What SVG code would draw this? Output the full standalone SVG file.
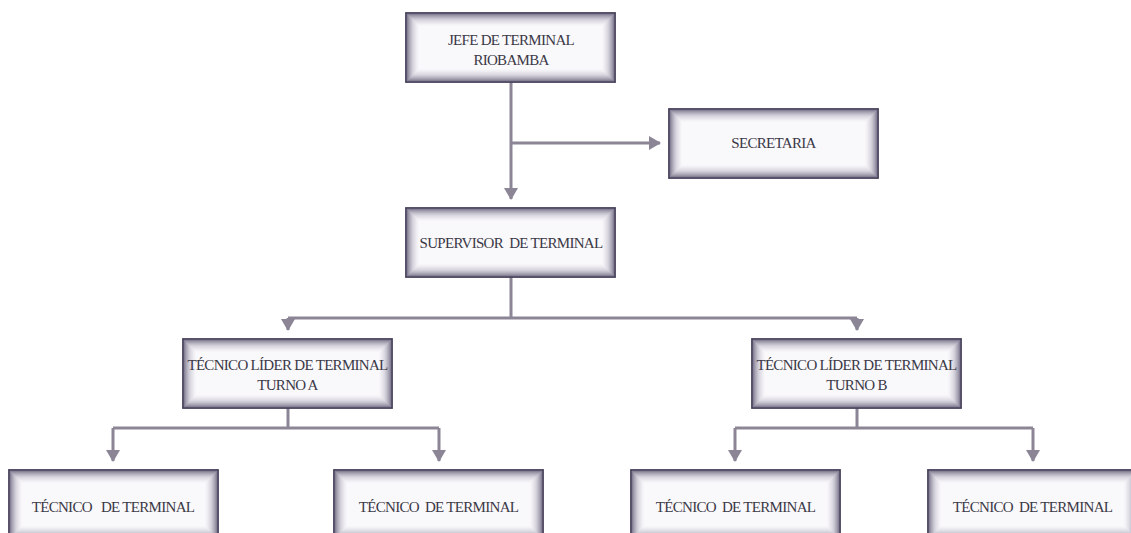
<svg xmlns="http://www.w3.org/2000/svg" width="1131" height="533" viewBox="0 0 1131 533">
  <defs>
    <style>
      .label { font-family: 'Liberation Serif', 'Times New Roman', serif; font-size: 15px; letter-spacing: -0.7px; fill: #3b3846; text-anchor: middle; dominant-baseline: central; white-space: pre; }
      .wire { fill: none; stroke: #8b8596; stroke-width: 3; }
      .shade { fill: none; stroke: #5c5472; stroke-width: 1; }
    </style>
    <!-- 209 x 69 box: pale centre, purple-grey shading fading in from the border -->
    <g id="box">
      <rect x="0" y="0" width="209" height="69" fill="#f9f8fb"/>
      <rect class="shade" x="1.5" y="1.5" width="206" height="66" stroke-opacity="0.72"/>
      <rect class="shade" x="2.5" y="2.5" width="204" height="64" stroke-opacity="0.6"/>
      <rect class="shade" x="3.5" y="3.5" width="202" height="62" stroke-opacity="0.5"/>
      <rect class="shade" x="4.5" y="4.5" width="200" height="60" stroke-opacity="0.41"/>
      <rect class="shade" x="5.5" y="5.5" width="198" height="58" stroke-opacity="0.33"/>
      <rect class="shade" x="6.5" y="6.5" width="196" height="56" stroke-opacity="0.26"/>
      <rect class="shade" x="7.5" y="7.5" width="194" height="54" stroke-opacity="0.2"/>
      <rect class="shade" x="8.5" y="8.5" width="192" height="52" stroke-opacity="0.15"/>
      <rect class="shade" x="9.5" y="9.5" width="190" height="50" stroke-opacity="0.11"/>
      <rect class="shade" x="10.5" y="10.5" width="188" height="48" stroke-opacity="0.07"/>
      <rect class="shade" x="11.5" y="11.5" width="186" height="46" stroke-opacity="0.04"/>
      <rect class="shade" x="12.5" y="12.5" width="184" height="44" stroke-opacity="0.02"/>
      <rect x="0" y="0" width="209" height="69" fill="none" stroke="#46405a" stroke-width="1.8"/>
    </g>
    <marker id="arrow" markerUnits="userSpaceOnUse" markerWidth="12" markerHeight="14" viewBox="0 0 12 14" refX="11" refY="7" orient="auto">
      <path d="M0,0 L12,7 L0,14 Z" fill="#8b8596"/>
    </marker>
  </defs>

  <!-- connectors -->
  <g id="connectors">
    <path class="wire" d="M511,82 V199" marker-end="url(#arrow)"/>
    <path class="wire" d="M511,143 H660" marker-end="url(#arrow)"/>
    <path class="wire" d="M511,276 V318"/>
    <path class="wire" d="M288,318 H857"/>
    <path class="wire" d="M288,318 V330" marker-end="url(#arrow)"/>
    <path class="wire" d="M857,318 V330" marker-end="url(#arrow)"/>
    <path class="wire" d="M288,407 V428"/>
    <path class="wire" d="M113,428 H439"/>
    <path class="wire" d="M113,428 V461" marker-end="url(#arrow)"/>
    <path class="wire" d="M439,428 V461" marker-end="url(#arrow)"/>
    <path class="wire" d="M857,408 V428"/>
    <path class="wire" d="M735,428 H1033"/>
    <path class="wire" d="M735,428 V461" marker-end="url(#arrow)"/>
    <path class="wire" d="M1033,428 V461" marker-end="url(#arrow)"/>
  </g>

  <g id="jefe">
    <use href="#box" x="406" y="13"/>
    <text class="label" x="511" y="40">JEFE DE TERMINAL</text>
    <text class="label" x="511" y="60">RIOBAMBA</text>
  </g>

  <g id="secretaria">
    <use href="#box" x="669" y="109"/>
    <text class="label" x="773.5" y="143">SECRETARIA</text>
  </g>

  <g id="supervisor">
    <use href="#box" x="406" y="208"/>
    <text class="label" x="511" y="243">SUPERVISOR  DE TERMINAL</text>
  </g>

  <g id="lider-a">
    <use href="#box" x="183" y="339"/>
    <text class="label" x="287.5" y="365">TÉCNICO LÍDER DE TERMINAL</text>
    <text class="label" x="287.5" y="385">TURNO A</text>
  </g>

  <g id="lider-b">
    <use href="#box" x="752" y="339"/>
    <text class="label" x="856.5" y="365">TÉCNICO LÍDER DE TERMINAL</text>
    <text class="label" x="856.5" y="385">TURNO B</text>
  </g>

  <g id="tecnico-a1">
    <use href="#box" x="9" y="470"/>
    <text class="label" x="113" y="507">TÉCNICO   DE TERMINAL</text>
  </g>

  <g id="tecnico-a2">
    <use href="#box" x="334" y="470"/>
    <text class="label" x="438.5" y="507">TÉCNICO  DE TERMINAL</text>
  </g>

  <g id="tecnico-b1">
    <use href="#box" x="631" y="470"/>
    <text class="label" x="735.5" y="507">TÉCNICO  DE TERMINAL</text>
  </g>

  <g id="tecnico-b2">
    <use href="#box" x="928" y="470"/>
    <text class="label" x="1032.5" y="507">TÉCNICO  DE TERMINAL</text>
  </g>
</svg>
